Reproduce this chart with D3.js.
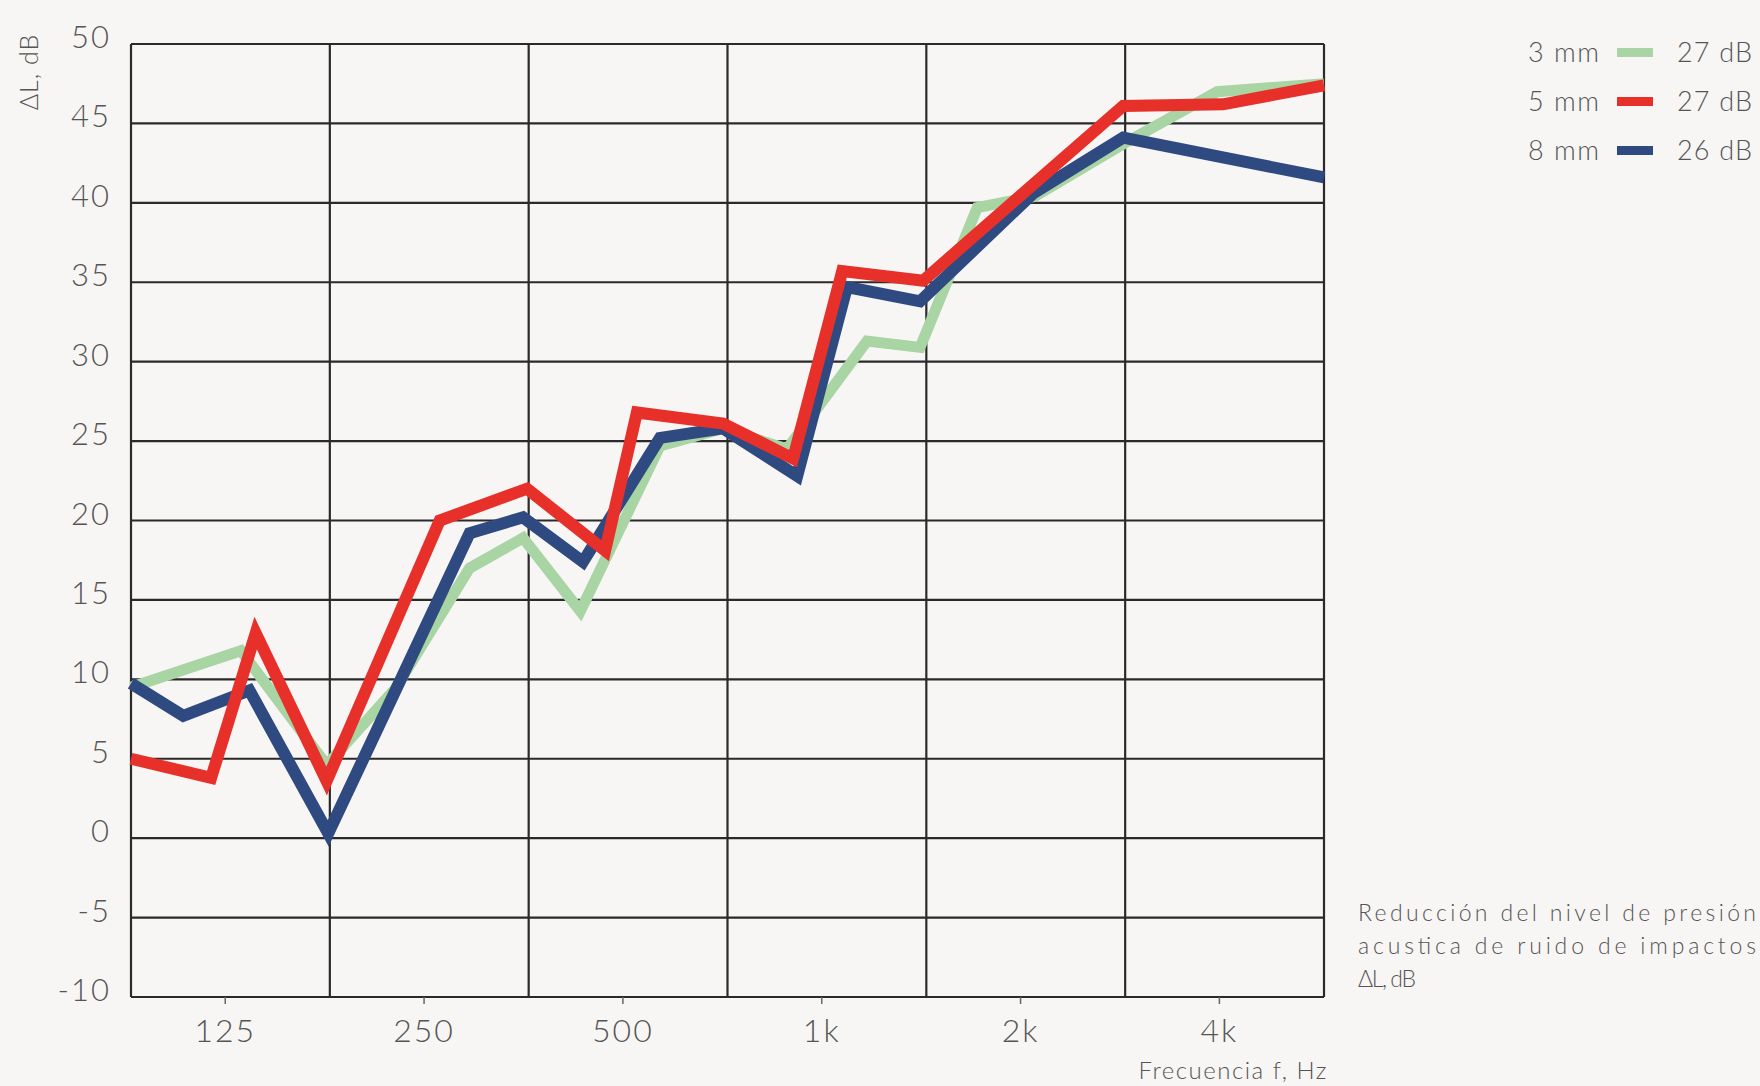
<!DOCTYPE html>
<html>
<head>
<meta charset="utf-8">
<script src="https://cdn.jsdelivr.net/npm/d3@7"></script>
<style>
  html, body { margin: 0; padding: 0; background: #f8f6f4; }
  text { font-family: Lato, "DejaVu Sans", sans-serif; font-weight: 300; fill: #555; }
</style>
</head>
<body>
<script>
// tick values / labels
const xTickFreqs = [125, 250, 500, 1000, 2000, 4000];
const xTickLabels = ["125", "250", "500", "1k", "2k", "4k"];
const gridFreqs = [90, 180, 360, 720, 1440, 2880, 5760];
const yTicks = [-10, -5, 0, 5, 10, 15, 20, 25, 30, 35, 40, 45, 50];

// series (frequency in Hz, reduction in dB)
const f3 = [90, 132, 178, 226, 293, 353, 431, 569, 709, 886, 1171, 1409, 1720, 2100, 2860, 3970, 5760];
const v3 = [9.5, 11.8, 4.6, 9.4, 17.0, 18.9, 14.3, 24.7, 25.8, 24.5, 31.3, 30.9, 39.7, 40.4, 43.7, 47.0, 47.5];
const f5 = [90, 119, 139, 178, 264, 358, 470, 525, 709, 905, 1074, 1424, 2860, 4050, 5760];
const v5 = [5.0, 3.8, 12.9, 3.6, 20.0, 22.0, 18.1, 26.8, 26.1, 23.9, 35.7, 35.1, 46.1, 46.2, 47.4];
const f8 = [90, 108, 136, 179, 293, 353, 435, 569, 709, 918, 1092, 1409, 2090, 2860, 5760];
const v8 = [9.75, 7.7, 9.3, 0.3, 19.2, 20.2, 17.4, 25.2, 25.8, 22.8, 34.7, 33.8, 40.6, 44.1, 41.6];

const seriesNames = ["3 mm", "5 mm", "8 mm"];
const seriesTotals = ["27 dB", "27 dB", "26 dB"];
const colors = ["#a8d5a3", "#e8302a", "#2f4a80"];

const W = 1760, H = 1086;
const pLeft = 131, pRight = 1324, pTop = 44, pBottom = 997;

const svg = d3.select("body").append("svg")
  .attr("width", W).attr("height", H);

svg.append("rect").attr("width", W).attr("height", H).attr("fill", "#f8f6f4");

const x = d3.scaleLog().domain([90, 5760]).range([pLeft, pRight]);
const y = d3.scaleLinear().domain([-10, 50]).range([pBottom, pTop]);

// grid
let grid = svg.append("g").attr("stroke", "#2a2a2a").attr("stroke-width", 2.2);
grid.selectAll(".h").data(yTicks).join("line").attr("class", "h")
  .attr("x1", pLeft).attr("x2", pRight)
  .attr("y1", d => y(d)).attr("y2", d => y(d));
grid.selectAll(".v").data(gridFreqs).join("line").attr("class", "v")
  .attr("y1", pTop).attr("y2", pBottom)
  .attr("x1", d => x(d)).attr("x2", d => x(d));

// x ticks
svg.append("g").selectAll("line").data(xTickFreqs).join("line")
  .attr("x1", d => x(d)).attr("x2", d => x(d))
  .attr("y1", pBottom).attr("y2", pBottom + 7)
  .attr("stroke", "#666").attr("stroke-width", 1.5);

svg.append("g").selectAll("text").data(xTickFreqs).join("text")
  .attr("x", d => x(d)).attr("y", 1042)
  .attr("text-anchor", "middle")
  .attr("font-size", 32)
  .attr("letter-spacing", 2)
  .text((d, i) => xTickLabels[i]);

// y tick labels
svg.append("g").selectAll("text").data(yTicks).join("text")
  .attr("x", 111).attr("y", d => y(d) + 4)
  .attr("text-anchor", "end")
  .attr("font-size", 31)
  .attr("letter-spacing", 2)
  .text(d => d);

// axis titles
svg.append("text")
  .attr("transform", "translate(38,72) rotate(-90)")
  .attr("text-anchor", "middle")
  .attr("font-size", 25)
  .attr("letter-spacing", 1)
  .text("ΔL, dB");

svg.append("text")
  .attr("x", 1328).attr("y", 1079)
  .attr("text-anchor", "end")
  .attr("font-size", 24)
  .attr("letter-spacing", 1.5)
  .text("Frecuencia f, Hz");

// lines: green, blue, red
const line = d3.line().x(d => x(d[0])).y(d => y(d[1]));
const series = [
  { f: f3, v: v3, c: colors[0], w: 11 },
  { f: f8, v: v8, c: colors[2], w: 12 },
  { f: f5, v: v5, c: colors[1], w: 12 }
];
series.forEach(s => {
  svg.append("path")
    .datum(s.f.map((f, i) => [f, s.v[i]]))
    .attr("d", line)
    .attr("fill", "none")
    .attr("stroke", s.c)
    .attr("stroke-width", s.w)
    .attr("stroke-linejoin", "miter");
});

// legend
const leg = svg.append("g");
seriesNames.forEach((n, i) => {
  let yy = 52 + i * 49;
  leg.append("text").attr("x", 1528).attr("y", yy + 10)
    .attr("font-size", 27).attr("letter-spacing", 1.5).text(n);
  leg.append("rect").attr("x", 1617).attr("y", yy - 4)
    .attr("width", 36).attr("height", 9).attr("fill", colors[i]);
  leg.append("text").attr("x", 1677).attr("y", yy + 10)
    .attr("font-size", 27).attr("letter-spacing", 1.2).text(seriesTotals[i]);
});

// note
const note = ["Reducción del nivel de presión", "acustica de ruido de impactos", "ΔL, dB"];
const noteW = [398, 398, 58];
note.forEach((t, i) => {
  svg.append("text")
    .attr("x", 1358).attr("y", 921 + i * 33)
    .attr("font-size", 23)
    .attr("textLength", noteW[i]).attr("lengthAdjust", "spacing")
    .text(t);
});
</script>
</body>
</html>
